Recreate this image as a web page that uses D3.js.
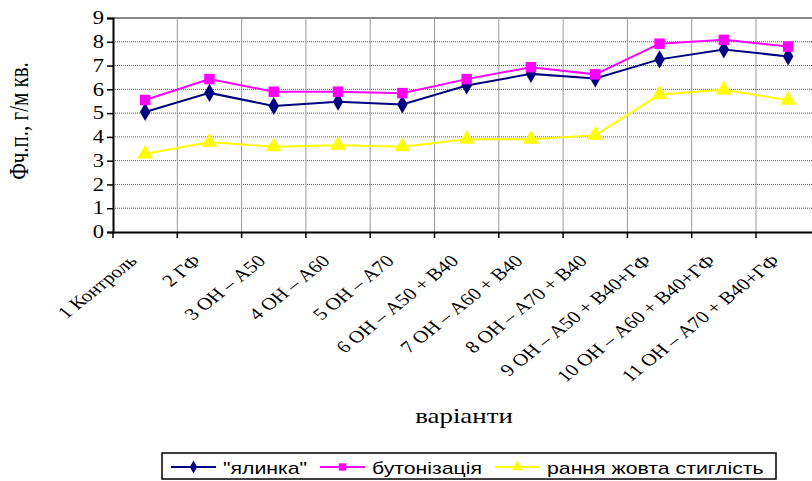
<!DOCTYPE html>
<html>
<head>
<meta charset="utf-8">
<script src="https://cdn.jsdelivr.net/npm/d3@7"></script>
<style>
  body { margin: 0; background: #fff; }
  svg { display: block; }
</style>
</head>
<body>
<div id="vis"></div>
<script>
// data
const categories = ["1 Контроль", "2 ГФ", "3 ОН – А50", "4 ОН – А60", "5 ОН – А70",
  "6 ОН – А50 + В40", "7 ОН – А60 + В40", "8 ОН – А70 + В40",
  "9 ОН – А50 + В40+ГФ", "10 ОН – А60 + В40+ГФ", "11 ОН – А70 + В40+ГФ"];
const yalynka = [5.05, 5.85, 5.3, 5.48, 5.36, 6.16, 6.65, 6.46, 7.26, 7.68, 7.38];
const butonizatsia = [5.55, 6.43, 5.9, 5.9, 5.84, 6.43, 6.93, 6.63, 7.92, 8.08, 7.8];
const stiglist = [3.28, 3.78, 3.59, 3.65, 3.59, 3.9, 3.9, 4.07, 5.78, 5.98, 5.54];
const yTicks = [0, 1, 2, 3, 4, 5, 6, 7, 8, 9];

const series = [
  {name: "\"ялинка\"", values: yalynka, color: "#000080", symbol: d3.symbolDiamond, size: 95},
  {name: "бутонізація", values: butonizatsia, color: "#ff00ff", symbol: d3.symbolSquare, size: 110},
  {name: "рання жовта стиглість", values: stiglist, color: "#ffff00", symbol: d3.symbolTriangle, size: 110}
];

const WIDTH = 812, HEIGHT = 481;
const PLOT = {left: 113, top: 18, bottom: 232, bandW: 64.3};
// the original picture is stretched sideways, text included
const SX = 1.25;

const svg = d3.select("#vis").append("svg")
  .attr("width", WIDTH)
  .attr("height", HEIGHT);

const X = d3.scaleBand()
  .domain(categories)
  .range([PLOT.left, PLOT.left + PLOT.bandW * categories.length]);

const Y = d3.scaleLinear()
  .domain([0, 9])
  .range([PLOT.bottom, PLOT.top]);

const serif = "'Liberation Serif', 'Times New Roman', serif";
const sans = "'Liberation Sans', Arial, sans-serif";

// horizontal grid (dotted)
svg.append("g").selectAll("line")
  .data(yTicks.slice(1))
  .enter().append("line")
    .attr("x1", PLOT.left).attr("x2", WIDTH)
    .attr("y1", d => Y(d)).attr("y2", d => Y(d))
    .attr("stroke", d => d == 9 ? "#888" : "#555")
    .attr("stroke-width", d => d == 9 ? 2 : 1)
    .attr("stroke-dasharray", d => d == 9 ? null : "1,1");

// vertical grid between categories
svg.append("g").selectAll("line")
  .data(categories.slice(1))
  .enter().append("line")
    .attr("x1", d => X(d)).attr("x2", d => X(d))
    .attr("y1", PLOT.top).attr("y2", PLOT.bottom)
    .attr("stroke", "#999")
    .attr("stroke-width", 1);

// x axis
const xAxis = svg.append("g")
  .attr("transform", "translate(0," + PLOT.bottom + ")")
  .call(d3.axisBottom(X).tickSize(0).tickFormat(""));
xAxis.select(".domain").attr("stroke", "#000").attr("stroke-width", 2);
xAxis.selectAll(".tick").remove();

svg.append("g").selectAll("line")
  .data(categories)
  .enter().append("line")
    .attr("x1", d => X(d)).attr("x2", d => X(d))
    .attr("y1", PLOT.bottom).attr("y2", PLOT.bottom + 6)
    .attr("stroke", "#000").attr("stroke-width", 1.5);

svg.append("g").selectAll("text")
  .data(categories)
  .enter().append("text")
    .attr("transform", d => "translate(" + (X(d) + X.bandwidth() / 2 - 7) + "," + (PLOT.bottom + 30) + ") scale(" + SX + ",1) rotate(-45)")
    .attr("text-anchor", "end")
    .attr("font-family", serif)
    .attr("font-size", "17px")
    .text(d => d);

// y axis
const yAxis = svg.append("g")
  .attr("transform", "translate(" + PLOT.left + ",0)")
  .call(d3.axisLeft(Y).tickValues(yTicks).tickSize(6).tickPadding(5));
yAxis.select(".domain").attr("stroke", "#000").attr("stroke-width", 2);
yAxis.selectAll(".tick line").attr("stroke", "#000").attr("stroke-width", 1.5);
yAxis.selectAll(".tick text")
  .attr("x", 0)
  .attr("transform", "translate(-9,0) scale(" + SX + ",1)")
  .attr("font-family", serif)
  .attr("font-size", "18px")
  .attr("fill", "#000");

// axis titles
svg.append("text")
  .attr("transform", "translate(28,121) scale(" + SX + ",1) rotate(-90)")
  .attr("text-anchor", "middle")
  .attr("font-family", serif)
  .attr("font-size", "21px")
  .text("Фч.п., г/м кв.");

svg.append("text")
  .attr("transform", "translate(464,423) scale(" + SX + ",1)")
  .attr("text-anchor", "middle")
  .attr("font-family", serif)
  .attr("font-size", "21.5px")
  .text("варіанти");

// lines and markers
const line = d3.line()
  .x((d, i) => X(categories[i]) + X.bandwidth() / 2)
  .y(d => Y(d));

series.forEach(s => {
  svg.append("path")
    .datum(s.values)
    .attr("fill", "none")
    .attr("stroke", s.color)
    .attr("stroke-width", 2)
    .attr("d", line);

  svg.append("g").selectAll("path")
    .data(s.values)
    .enter().append("path")
      .attr("transform", (d, i) => "translate(" + (X(categories[i]) + X.bandwidth() / 2) + "," + Y(d) + ")")
      .attr("d", d3.symbol().type(s.symbol).size(s.size))
      .attr("fill", s.color);
});

// legend
const legend = svg.append("g");
legend.append("rect")
  .attr("x", 162).attr("y", 453)
  .attr("width", 614).attr("height", 26)
  .attr("fill", "#fff")
  .attr("stroke", "#000")
  .attr("stroke-width", 1.5);

const legendX = [171, 320, 495];
series.forEach((s, i) => {
  const lx = legendX[i];
  legend.append("line")
    .attr("x1", lx).attr("x2", lx + 45)
    .attr("y1", 467).attr("y2", 467)
    .attr("stroke", s.color).attr("stroke-width", 2);
  legend.append("path")
    .attr("transform", "translate(" + (lx + 22.5) + ",467)")
    .attr("d", d3.symbol().type(s.symbol).size(s.size * 0.5))
    .attr("fill", s.color);
  legend.append("text")
    .attr("transform", "translate(" + (lx + 52) + ",474) scale(" + SX + ",1)")
    .attr("font-family", sans)
    .attr("font-size", "17px")
    .text(s.name);
});
</script>
</body>
</html>
